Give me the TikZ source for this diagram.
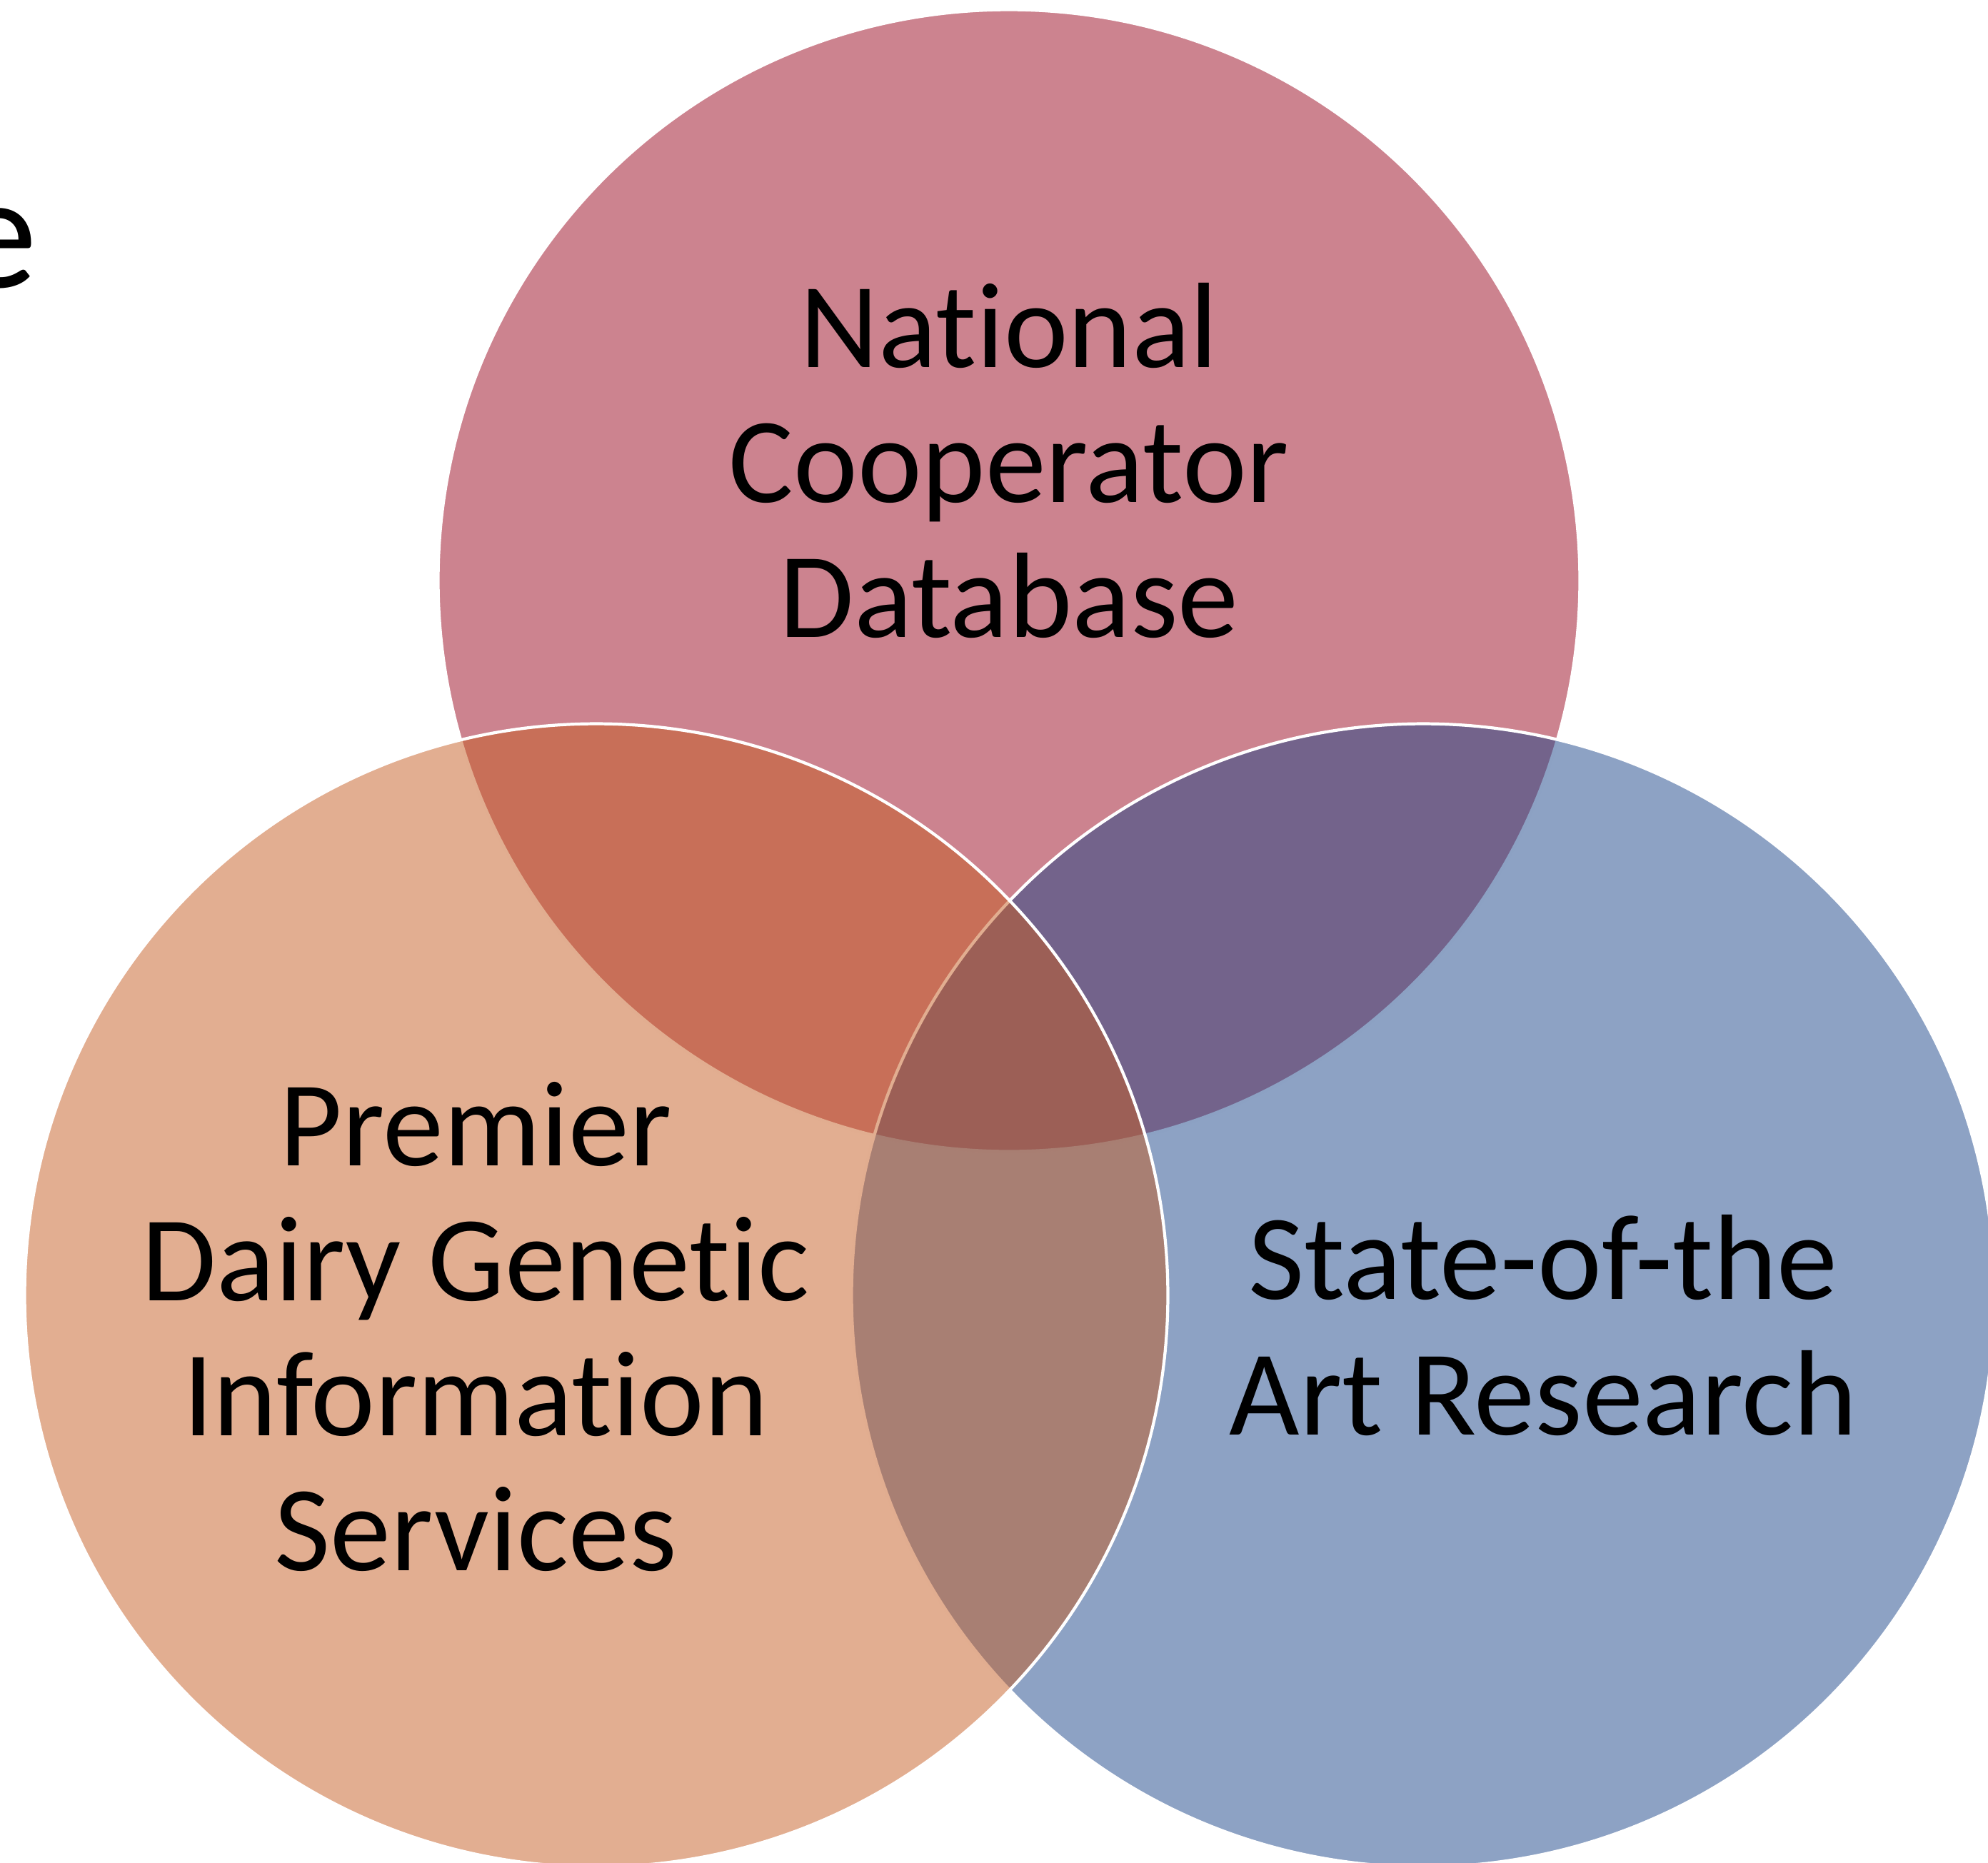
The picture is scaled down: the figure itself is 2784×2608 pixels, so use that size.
\documentclass[tikz,border=0pt]{standalone}
\usepackage{fontspec}
\setmainfont[Ligatures=NoCommon]{Carlito}
\definecolor{dbred}{RGB}{153,7,31}
\definecolor{dbblue}{RGB}{27,69,137}
\definecolor{dborange}{RGB}{197,93,35}
\newcommand{\vennfont}{\fontsize{48.4pt}{53.8pt}\selectfont}

\begin{document}
\begin{tikzpicture}[x=0.01cm,y=-0.01cm,
      ring/.style={draw=white,line width=1.2pt,fill opacity=0.5},
      txt/.style={align=center,font=\vennfont,inner sep=0pt}]
   \useasboundingbox (0,0) rectangle (2784,2608);
   \clip (0,0) rectangle (2784,2608);
   % last letter of a title, cut off by the left edge
   \node [anchor=base east,inner sep=0pt,font=\fontsize{65pt}{78pt}\selectfont]
      (title) at (53,402) {e};

   % the three sets: top first, then right, then left
   \draw [ring,fill=dbred] 
      (1413,813) circle (7.99cm);
   \draw [ring,fill=dbblue] 
      (1993,1814) circle (8cm);
   \draw [ring,fill=dborange] 
      (835,1814) circle (8cm);

   \node [txt] (ncd) at (1413,645) {National\\Cooperator\\Database};
   \node [txt] (pdgis) at (666,1858) {Premier\\Dairy Genetic\\Information\\Services};
   \node [txt] (research) at (2161,1856) {State-of-the\\Art Research};
\end{tikzpicture}
\end{document}
